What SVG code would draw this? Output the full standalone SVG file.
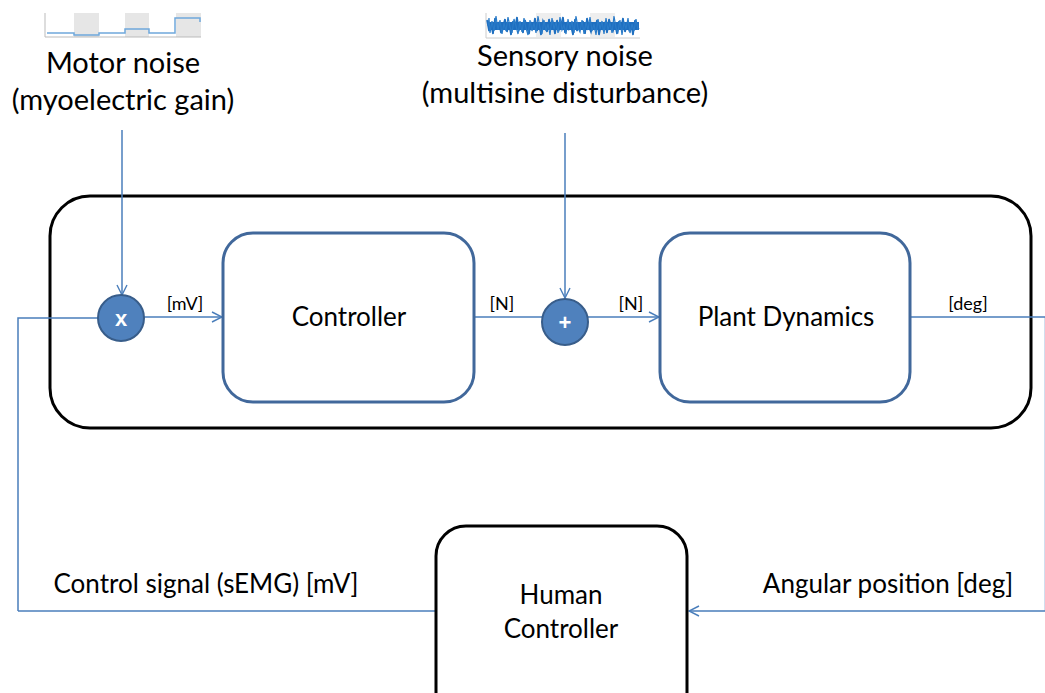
<svg xmlns="http://www.w3.org/2000/svg" width="1045" height="693" viewBox="0 0 1045 693">
<defs>
<marker id="arr" viewBox="0 0 12 12" refX="11" refY="6" markerWidth="12" markerHeight="12" markerUnits="userSpaceOnUse" orient="auto">
<path d="M1,1 L11,6 L1,11" fill="none" stroke="#4A7EBB" stroke-width="1.4"/>
</marker>
<style>
.t{font-family:Lato,"Noto Sans","Liberation Sans",sans-serif;fill:#000}
.big{font-size:29px}
.mid{font-size:26px}
.sm{font-size:18px}
.conn{fill:none;stroke:#4A7EBB;stroke-width:1.5}
.blk{fill:#fff;stroke:#000;stroke-width:3}
.blu{fill:#fff;stroke:#41689B;stroke-width:3}
.sum{fill:#4F81BD;stroke:#385D8A;stroke-width:2}
.op{font-family:"Liberation Sans",Arial,sans-serif;font-size:22px;font-weight:bold;fill:#fff}
</style>
</defs>
<rect width="1045" height="693" fill="#fff"/>

<g id="motor-noise-icon">
<rect x="74" y="13" width="25" height="24" fill="#e6e6e6"/>
<rect x="125" y="13" width="24" height="24" fill="#e6e6e6"/>
<rect x="176" y="13" width="25" height="24" fill="#e6e6e6"/>
<path d="M45,13 V37 H201" fill="none" stroke="#bbb" stroke-width="1"/>
<polyline points="47,33 74,33 74,35 99,35 99,33 125,33 125,29 149,29 149,33 175,33 175,18 200,18 200,22" fill="none" stroke="#6FA8DC" stroke-width="1.5"/>
</g>
<g id="motor-noise-label">
<text class="t big" x="123" y="73" text-anchor="middle">Motor noise</text>
<text class="t big" x="123" y="110" text-anchor="middle">(myoelectric gain)</text>
</g>

<g id="sensory-noise-icon">
<rect x="536" y="13" width="25" height="24" fill="#eeeeee"/>
<rect x="590" y="13" width="25" height="24" fill="#eeeeee"/>
<path d="M486,13 V38 H640" fill="none" stroke="#ccc" stroke-width="1"/>
<rect x="488" y="22" width="151" height="8" fill="#1F6FC0"/>
<polyline points="487,20 489,31 491,24 493,34 495,18 497,29 499,22 501,33 503,26 505,19 507,32 509,23 511,35 513,21 515,28 517,17 519,30 521,25 523,33 525,20 527,27 529,34 531,22 533,29 535,18 537,31 539,24 541,35 543,21 545,26 547,32 549,19 551,28 553,23 555,34 557,20 559,30 561,25 563,17 565,33 567,22 569,29 571,26 573,35 575,19 577,31 579,24 581,28 583,21 585,34 587,18 589,27 591,32 593,23 595,30 597,20 599,35 601,25 603,29 605,22 607,33 609,19 611,26 613,31 615,24 617,34 619,21 621,28 623,18 625,32 627,25 629,30 631,23 633,35 635,20 637,27 639,29" fill="none" stroke="#1F6FC0" stroke-width="1.6"/>
<polyline points="488,26 489,18 490,33 492,21 494,31 496,16 498,30 500,20 502,34 504,23 506,31 508,17 510,27 512,33 514,19 516,26 518,34 520,21 522,32 524,18 526,28 528,35 530,20 532,31 534,23 536,33 538,16 540,28 542,34 544,20 546,31 548,24 550,35 552,18 554,29 556,22 558,33 560,17 562,30 564,25 566,34 568,19 570,29 572,21 574,33 576,16 578,28 580,32 582,20 584,34 586,22 588,30 590,17 592,31 594,24 596,35 598,19 600,29 602,21 604,34 606,18 608,30 610,23 612,33 614,16 616,28 618,32 620,20 622,35 624,22 626,29 628,18 630,33 632,24 634,31 636,19 638,30" fill="none" stroke="#2A7BC8" stroke-width="1.2"/>
</g>
<g id="sensory-noise-label">
<text class="t big" x="565" y="66" text-anchor="middle">Sensory noise</text>
<text class="t big" x="565" y="103" text-anchor="middle">(multisine disturbance)</text>
</g>

<g id="system-box">
<rect class="blk" x="50" y="196" width="981" height="232" rx="40"/>
</g>

<g id="connectors">
<path class="conn" d="M122,130 V295" marker-end="url(#arr)"/>
<path class="conn" d="M565,133 V298" marker-end="url(#arr)"/>
<path class="conn" d="M18,611 V318 H98"/>
<path class="conn" d="M144,317 H222" marker-end="url(#arr)"/>
<path class="conn" d="M474,317 H542"/>
<path class="conn" d="M588,317 H659" marker-end="url(#arr)"/>
<path class="conn" d="M910,317 H1045.5 V611 H689" marker-end="url(#arr)"/>
<path class="conn" d="M436,611 H18"/>
<text class="t sm" x="185" y="310" text-anchor="middle">[mV]</text>
<text class="t sm" x="502" y="310" text-anchor="middle">[N]</text>
<text class="t sm" x="631" y="310" text-anchor="middle">[N]</text>
<text class="t sm" x="968" y="310" text-anchor="middle">[deg]</text>
<text class="t mid" x="206" y="593" text-anchor="middle">Control signal (sEMG) [mV]</text>
<text class="t mid" x="888" y="593" text-anchor="middle">Angular position [deg]</text>
</g>

<g id="multiplier">
<circle class="sum" cx="121" cy="318" r="23"/>
<text class="op" x="121" y="326" text-anchor="middle">x</text>
</g>

<g id="summer">
<circle class="sum" cx="565" cy="322" r="23"/>
<text class="op" x="565" y="330" text-anchor="middle">+</text>
</g>

<g id="controller">
<rect class="blu" x="223" y="233" width="251" height="169" rx="30"/>
<text class="t mid" x="349" y="326" text-anchor="middle">Controller</text>
</g>

<g id="plant-dynamics">
<rect class="blu" x="660" y="233" width="250" height="169" rx="30"/>
<text class="t mid" x="786" y="326" text-anchor="middle">Plant Dynamics</text>
</g>

<g id="human-controller">
<rect class="blk" x="436" y="526" width="251" height="200" rx="30"/>
<text class="t mid" x="561" y="604" text-anchor="middle">Human</text>
<text class="t mid" x="561" y="638" text-anchor="middle">Controller</text>
</g>
</svg>
